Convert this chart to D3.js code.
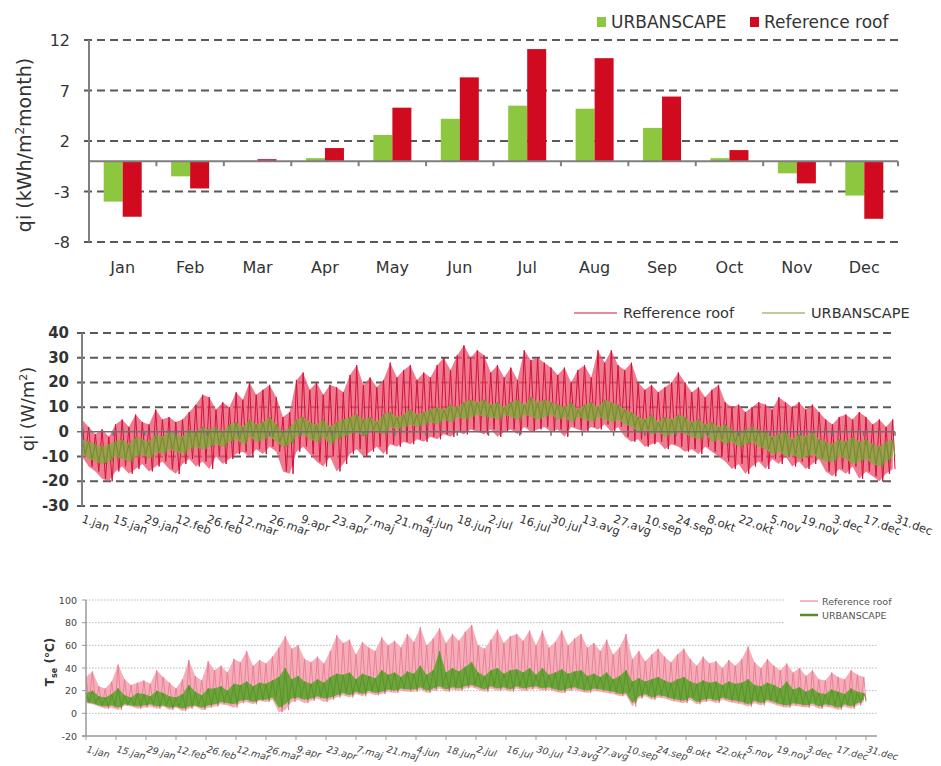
<!DOCTYPE html>
<html lang="en">
<head>
<meta charset="UTF-8">
<title>qi and Tse - URBANSCAPE vs reference roof</title>
<script src="https://d3js.org/d3.v7.min.js"></script>
<style>
  body { margin: 0; background: #fff; }
  svg { display: block; font-family: "DejaVu Sans", Arial, sans-serif; }
</style>
</head>
<body>
<svg id="chart" width="941" height="766"></svg>
<script>
// ---- top: monthly heat flux (kWh/m2 month)
const months = ['Jan','Feb','Mar','Apr','May','Jun','Jul','Aug','Sep','Oct','Nov','Dec'];
const urbanMonthly = [-4.0, -1.5, 0.05, 0.3, 2.6, 4.2, 5.5, 5.2, 3.3, 0.3, -1.2, -3.4];
const refMonthly   = [-5.5, -2.7, 0.2, 1.3, 5.3, 8.3, 11.1, 10.2, 6.4, 1.1, -2.2, -5.7];
const topTicks = [-8, -3, 2, 7, 12];

// ---- time series, one sample every 3 days (daily max / min)
const DAY_STEP = 3;
const dateLabels = ['1.jan','15.jan','29.jan','12.feb','26.feb','12.mar','26.mar','9.apr','23.apr',
  '7.maj','21.maj','4.jun','18.jun','2.jul','16.jul','30.jul','13.avg','27.avg','10.sep','24.sep',
  '8.okt','22.okt','5.nov','19.nov','3.dec','17.dec','31.dec'];

// middle: qi (W/m2)
const qiTicks = [40, 30, 20, 10, 0, -10, -20, -30];
const qiRefMax = [5,2,-1,1,-2,3,5,2,7,4,3, 9,5,6,4,5,8,11,15,14, 9,12,10,16,13,20,15,17,19,14,
  6,8,21,24,17,20,15,19,18,16, 23,27,19,22,18,21,28,22,25,27,21, 24,22,27,30,25,31,35,30,33,31,
  24,27,22,26,21,33,29,30,28,26, 23,26,20,25,27,22,33,28,33,27, 25,28,20,17,19,16,18,20,24,20,
  16,18,14,17,19,12,10,11,8,10,12, 11,9,14,12,10,12,9,11,8,5, 3,6,7,5,8,6,3,5,2,5];
const qiRefMin = [-10,-14,-16,-19,-20,-16,-14,-17,-15,-13,-16, -14,-12,-15,-17,-13,-11,-14,-12,-15,
  -10,-13,-11,-9,-8,-10,-7,-9,-6,-8, -16,-17,-8,-6,-9,-12,-14,-10,-16,-13, -9,-7,-10,-8,-6,-9,-5,-6,-4,-5,-3,
  -4,-2,-3,-1,-2,0,-1,1,0,-1, 1,-2,0,1,-1,2,0,1,2,0, 1,-2,2,1,0,2,1,3,0,2, -2,-4,-3,-6,-5,-4,-7,-5,-6,-8,
  -7,-9,-6,-8,-10,-12,-15,-13,-17,-14,-12, -15,-11,-13,-10,-14,-12,-15,-13,-11,-16, -18,-15,-17,-14,-19,-16,-18,-20,-17,-15];
const qiUrbMax = [-3,-4,-5,-6,-5,-4,-3,-5,-2,-3,-4, -1,-2,0,-1,-2,1,0,2,1, 2,0,3,4,2,5,3,4,6,3,
  0,2,5,6,4,3,5,2,4,5, 6,7,5,6,4,7,8,6,7,9,7, 8,9,10,9,11,10,12,13,12,13, 11,12,10,12,13,11,14,12,13,12,
  11,10,12,9,11,12,10,13,12,11, 9,8,6,5,7,4,6,5,7,6, 4,5,3,4,2,3,1,0,1,2,1, 0,-2,-1,0,-3,-1,-2,0,-3,-4,
  -5,-3,-4,-2,-4,-3,-5,-6,-4,-3];
const qiUrbMin = [-9,-11,-12,-13,-12,-10,-11,-12,-10,-9,-11, -8,-9,-7,-8,-9,-7,-6,-7,-6, -5,-6,-4,-3,-5,-2,-4,-3,-2,-4,
  -6,-5,-2,-1,-3,-4,-2,-5,-3,-2, -1,0,-2,1,0,-1,2,1,2,3,2, 3,4,3,5,4,6,5,6,7,6, 6,5,7,6,5,7,6,5,6,7,
  5,6,4,6,5,4,6,5,4,5, 3,2,0,1,-1,0,-2,-1,0,-1, -2,-3,-1,-4,-3,-5,-4,-6,-5,-4,-6, -7,-9,-8,-10,-9,-11,-10,-9,-11,-12,
  -12,-10,-11,-13,-12,-11,-13,-14,-12,-10];

// bottom: Tse (degC)
const tTicks = [100, 80, 60, 40, 20, 0, -20];
const tRefMax = [32,37,24,22,28,43,30,25,27,29,26, 38,32,27,22,30,47,33,29,46, 38,42,36,48,45,55,42,47,44,50,
  58,68,57,60,48,45,50,44,55,69, 62,65,52,63,58,55,67,60,64,58,70, 63,76,60,66,75,62,70,64,72,78,
  60,57,65,74,62,68,70,64,73,60, 73,58,63,73,60,66,70,58,62,55, 65,52,58,70,48,55,46,52,57,50,
  45,52,57,48,42,50,44,46,40,47,42, 48,59,45,40,48,42,38,44,36,40, 33,38,30,29,36,32,30,38,34,32];
const tRefMin = [9,8,6,4,5,3,7,6,4,5,6, 4,6,3,5,2,4,6,3,5, 6,8,7,5,9,10,8,11,10,12,
  1,3,10,12,9,11,13,10,12,14, 16,14,17,15,18,16,17,19,18,20,19, 19,21,18,20,22,19,21,20,22,23,
  21,19,22,20,21,19,22,20,21,22, 20,21,19,18,20,21,19,18,20,19, 18,17,15,16,6,13,15,12,14,13,
  11,10,9,12,8,10,11,9,12,10,9, 8,6,9,7,10,8,6,5,7,6, 5,7,4,6,5,3,6,4,7,10];
const tUrbMax = [18,20,15,14,17,22,16,14,18,17,15, 20,18,15,14,17,25,19,16,22, 22,24,20,26,25,28,24,27,26,29,
  32,40,30,33,28,26,30,27,32,35, 34,36,30,35,33,31,38,34,36,32,37, 35,42,34,38,55,36,40,37,41,45,
  36,33,38,40,35,38,39,36,40,34, 40,34,36,39,35,37,38,33,35,32, 36,30,33,38,28,31,28,30,32,29,
  27,30,32,28,26,29,27,28,25,28,26, 27,30,25,24,27,25,22,28,21,23, 19,22,18,17,21,19,17,22,19,18];
const tUrbMin = [10,9,7,6,7,5,8,7,6,7,8, 6,7,5,6,4,6,7,5,7, 8,10,9,8,11,12,10,12,12,14,
  5,8,13,14,12,13,15,13,14,16, 18,16,19,17,20,18,19,21,20,22,21, 21,23,20,22,24,21,23,22,24,25,
  23,21,24,22,23,21,24,22,23,24, 22,23,21,20,22,23,21,20,22,21, 20,19,17,18,9,15,17,14,16,15,
  13,12,11,14,10,12,13,11,14,12,11, 10,8,11,9,12,10,8,7,9,8, 7,9,6,8,7,5,8,6,9,12];

const svg = d3.select('#chart');

// ================= TOP PANEL =================
const xTop = d3.scaleBand().domain(months).range([89, 898]);
const yTop = d3.scaleLinear().domain([-8, 12]).range([242, 40]);
const gTop = svg.append('g');

gTop.selectAll('.grid').data(topTicks).enter().append('line')
  .attr('x1', 84).attr('x2', 898)
  .attr('y1', d => yTop(d)).attr('y2', d => yTop(d))
  .attr('stroke', '#595959').attr('stroke-width', 2).attr('stroke-dasharray', '8,5');

const bw = 19;
const barData = months.map((m, i) => ({ m, u: urbanMonthly[i], r: refMonthly[i] }));
gTop.selectAll('.bu').data(barData).enter().append('rect')
  .attr('x', d => xTop(d.m) + xTop.bandwidth() / 2 - bw)
  .attr('y', d => yTop(Math.max(0, d.u)))
  .attr('width', bw)
  .attr('height', d => Math.abs(yTop(d.u) - yTop(0)))
  .attr('fill', '#8dc63f');
gTop.selectAll('.br').data(barData).enter().append('rect')
  .attr('x', d => xTop(d.m) + xTop.bandwidth() / 2)
  .attr('y', d => yTop(Math.max(0, d.r)))
  .attr('width', bw)
  .attr('height', d => Math.abs(yTop(d.r) - yTop(0)))
  .attr('fill', '#d00a1f');

// axes
gTop.append('line').attr('x1', 89).attr('x2', 89).attr('y1', yTop(12)).attr('y2', yTop(-8))
  .attr('stroke', '#7f7f7f').attr('stroke-width', 2);
gTop.append('line').attr('x1', 89).attr('x2', 898).attr('y1', yTop(0)).attr('y2', yTop(0))
  .attr('stroke', '#7f7f7f').attr('stroke-width', 2);
gTop.selectAll('.bt').data(months.concat(['end'])).enter().append('line')
  .attr('x1', (d, i) => i < 12 ? xTop(d) : 898).attr('x2', (d, i) => i < 12 ? xTop(d) : 898)
  .attr('y1', yTop(0)).attr('y2', yTop(0) + 5)
  .attr('stroke', '#7f7f7f').attr('stroke-width', 2);

gTop.selectAll('.yl').data(topTicks).enter().append('text')
  .attr('x', 70).attr('y', d => yTop(d) + 6)
  .attr('text-anchor', 'end').attr('font-size', 16).attr('fill', '#333')
  .text(d => d);
gTop.selectAll('.xl').data(months).enter().append('text')
  .attr('x', d => xTop(d) + xTop.bandwidth() / 2).attr('y', 273)
  .attr('text-anchor', 'middle').attr('font-size', 16).attr('fill', '#333')
  .text(d => d);

const tTitle = gTop.append('text').attr('transform', 'translate(31,145) rotate(-90)')
  .attr('text-anchor', 'middle').attr('font-size', 19).attr('fill', '#333');
tTitle.append('tspan').text('qi  (kWh/m');
tTitle.append('tspan').attr('dy', -7).attr('font-size', 12).text('2');
tTitle.append('tspan').attr('dy', 7).text('month)');

// legend
const legTop = [{ t: 'URBANSCAPE', c: '#8dc63f', x: 597 }, { t: 'Reference roof', c: '#d00a1f', x: 750 }];
legTop.forEach(l => {
  gTop.append('rect').attr('x', l.x).attr('y', 17).attr('width', 9).attr('height', 10).attr('fill', l.c);
  gTop.append('text').attr('x', l.x + 14).attr('y', 28).attr('font-size', 17).attr('fill', '#333').text(l.t);
});

// ================= helper for dense series =================
function drawBand(g, x, y, maxArr, minArr, fill, fillOpacity, stroke, sw) {
  const area = d3.area()
    .x((d, i) => x(i * DAY_STEP))
    .y0((d, i) => y(minArr[i]))
    .y1(d => y(d));
  g.append('path').datum(maxArr).attr('d', area)
    .attr('fill', fill).attr('fill-opacity', fillOpacity);
  const pts = [];
  maxArr.forEach((v, i) => {
    pts.push([x(i * DAY_STEP), y(v)]);
    pts.push([x(Math.min(364, i * DAY_STEP + 1.5)), y(minArr[i])]);
  });
  g.append('path').datum(pts).attr('d', d3.line())
    .attr('fill', 'none').attr('stroke', stroke).attr('stroke-width', sw)
    .attr('stroke-linejoin', 'round');
}

// ================= MIDDLE PANEL =================
const xMid = d3.scaleLinear().domain([0, 364]).range([82, 895]);
const yMid = d3.scaleLinear().domain([-30, 40]).range([506, 333]);
const gMid = svg.append('g');

gMid.selectAll('.grid').data(qiTicks.filter(d => d !== 0)).enter().append('line')
  .attr('x1', 77).attr('x2', 895)
  .attr('y1', d => yMid(d)).attr('y2', d => yMid(d))
  .attr('stroke', '#595959').attr('stroke-width', 2).attr('stroke-dasharray', '8,5');

drawBand(gMid, xMid, yMid, qiRefMax, qiRefMin, '#e9566f', 0.78, '#d4103a', 1);
drawBand(gMid, xMid, yMid, qiUrbMax, qiUrbMin, '#8ea645', 0.85, '#6f8f2a', 1);

gMid.append('line').attr('x1', 82).attr('x2', 82).attr('y1', yMid(40)).attr('y2', yMid(-30))
  .attr('stroke', '#7f7f7f').attr('stroke-width', 2);
gMid.append('line').attr('x1', 77).attr('x2', 895).attr('y1', yMid(0)).attr('y2', yMid(0))
  .attr('stroke', '#6f6f6f').attr('stroke-width', 1.5);
gMid.selectAll('.mt').data(dateLabels).enter().append('line')
  .attr('x1', (d, i) => xMid(i * 14)).attr('x2', (d, i) => xMid(i * 14))
  .attr('y1', yMid(0)).attr('y2', yMid(0) + 4)
  .attr('stroke', '#6f6f6f').attr('stroke-width', 1.5);

gMid.selectAll('.yl').data(qiTicks).enter().append('text')
  .attr('x', 69).attr('y', d => yMid(d) + 5)
  .attr('text-anchor', 'end').attr('font-size', 15).attr('font-weight', 'bold').attr('fill', '#333')
  .text(d => d);
gMid.selectAll('.xl').data(dateLabels).enter().append('text')
  .attr('transform', (d, i) => `translate(${xMid(i * 14) - 1},${522}) rotate(20)`)
  .attr('font-size', 11.5).attr('fill', '#333')
  .text(d => d);

const mTitle = gMid.append('text').attr('transform', 'translate(34,409) rotate(-90)')
  .attr('text-anchor', 'middle').attr('font-size', 18).attr('fill', '#333');
mTitle.append('tspan').text('qi (W/m');
mTitle.append('tspan').attr('dy', -7).attr('font-size', 11).text('2');
mTitle.append('tspan').attr('dy', 7).text(')');

const legMid = [{ t: 'Refference roof', c: '#d8123c', x: 574 }, { t: 'URBANSCAPE', c: '#7f9a3a', x: 762 }];
legMid.forEach(l => {
  gMid.append('line').attr('x1', l.x).attr('x2', l.x + 43).attr('y1', 313).attr('y2', 313)
    .attr('stroke', l.c).attr('stroke-width', 1.2);
  gMid.append('text').attr('x', l.x + 49).attr('y', 318).attr('font-size', 14.5).attr('fill', '#333').text(l.t);
});

// ================= BOTTOM PANEL =================
const xBot = d3.scaleLinear().domain([0, 364]).range([86, 866]);
const yBot = d3.scaleLinear().domain([-20, 100]).range([736, 600]);
const gBot = svg.append('g');

gBot.selectAll('.grid').data(tTicks.filter(d => d > -20)).enter().append('line')
  .attr('x1', 86).attr('x2', d => d >= 80 ? 785 : 877)
  .attr('y1', d => yBot(d)).attr('y2', d => yBot(d))
  .attr('stroke', '#b8b8b8').attr('stroke-width', 1).attr('stroke-dasharray', '1.5,1.5');

drawBand(gBot, xBot, yBot, tRefMax, tRefMin, '#f4a6b4', 0.9, '#ea7b92', 0.9);
drawBand(gBot, xBot, yBot, tUrbMax, tUrbMin, '#67a336', 0.95, '#56952a', 1);

gBot.append('line').attr('x1', 86).attr('x2', 86).attr('y1', yBot(100)).attr('y2', yBot(-20))
  .attr('stroke', '#999').attr('stroke-width', 1.5);
gBot.append('line').attr('x1', 82).attr('x2', 877).attr('y1', yBot(-20)).attr('y2', yBot(-20))
  .attr('stroke', '#999').attr('stroke-width', 1.5);
gBot.selectAll('.bt').data(dateLabels).enter().append('line')
  .attr('x1', (d, i) => xBot(i * 14)).attr('x2', (d, i) => xBot(i * 14))
  .attr('y1', yBot(-20)).attr('y2', yBot(-20) + 4)
  .attr('stroke', '#999').attr('stroke-width', 1);
gBot.selectAll('.yt').data(tTicks).enter().append('line')
  .attr('x1', 82).attr('x2', 86).attr('y1', d => yBot(d)).attr('y2', d => yBot(d))
  .attr('stroke', '#999').attr('stroke-width', 1);

gBot.selectAll('.yl').data(tTicks).enter().append('text')
  .attr('x', 77).attr('y', d => yBot(d) + 3.5)
  .attr('text-anchor', 'end').attr('font-size', 9.5).attr('fill', '#444')
  .text(d => d);
gBot.selectAll('.xl').data(dateLabels).enter().append('text')
  .attr('transform', (d, i) => `translate(${xBot(i * 14)},${752}) rotate(15)`)
  .attr('font-size', 9.5).attr('font-style', 'italic').attr('fill', '#444')
  .text(d => d);

const bTitle = gBot.append('text').attr('transform', 'translate(54,662) rotate(-90)')
  .attr('text-anchor', 'middle').attr('font-size', 12).attr('font-weight', 'bold').attr('fill', '#333');
bTitle.append('tspan').text('T');
bTitle.append('tspan').attr('dy', 3).attr('font-size', 8).text('se');
bTitle.append('tspan').attr('dy', -3).text('  (°C)');

const legBot = [{ t: 'Reference roof', c: '#f08898', w: 1.2, y: 601 }, { t: 'URBANSCAPE', c: '#5a8a2a', w: 2.5, y: 615 }];
legBot.forEach(l => {
  gBot.append('line').attr('x1', 800).attr('x2', 818).attr('y1', l.y).attr('y2', l.y)
    .attr('stroke', l.c).attr('stroke-width', l.w);
  gBot.append('text').attr('x', 822).attr('y', l.y + 3.5).attr('font-size', 9.5).attr('fill', '#555').text(l.t);
});
</script>
</body>
</html>
